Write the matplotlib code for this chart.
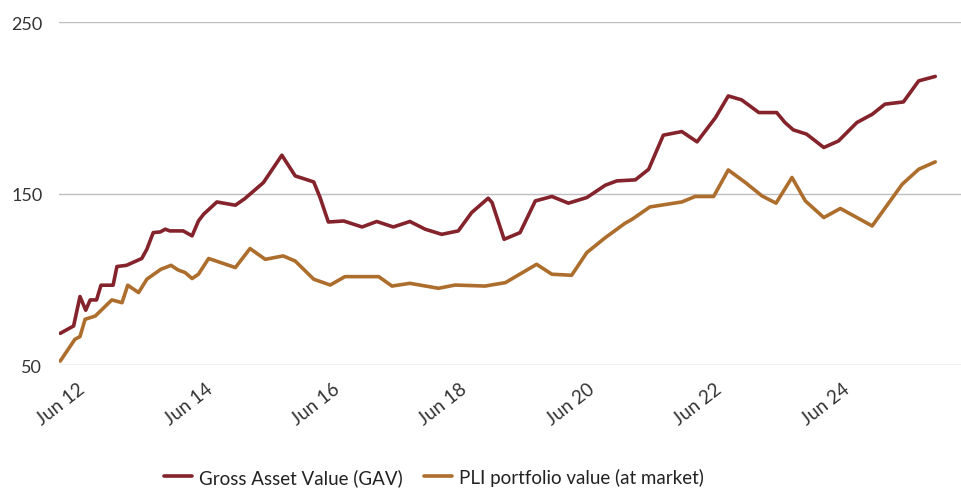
import matplotlib.pyplot as plt

# decimal-year dates and values
gav_dates = [2011.98, 2012.19, 2012.29, 2012.38, 2012.45, 2012.55, 2012.62, 2012.81, 2012.87,
             2013.02, 2013.26, 2013.34, 2013.44, 2013.55, 2013.63, 2013.70, 2013.91, 2014.05,
             2014.15, 2014.23, 2014.44, 2014.73, 2014.88, 2015.17, 2015.46, 2015.67, 2015.96,
             2016.06, 2016.19, 2016.43, 2016.72, 2016.95, 2017.21, 2017.47, 2017.71, 2017.97,
             2018.23, 2018.44, 2018.70, 2018.76, 2018.95, 2019.20, 2019.44, 2019.70, 2019.96,
             2020.25, 2020.54, 2020.72, 2021.01, 2021.22, 2021.45, 2021.74, 2021.98, 2022.27,
             2022.47, 2022.68, 2022.95, 2023.23, 2023.36, 2023.49, 2023.70, 2023.97, 2024.20,
             2024.49, 2024.73, 2024.93, 2025.22, 2025.46, 2025.72]
gav_values = [68.5, 72.8, 90.0, 82.0, 88.0, 88.0, 96.6, 96.6, 107.5,
              108.2, 112.2, 117.6, 127.3, 127.7, 129.3, 128.3, 128.3, 125.4,
              134.1, 138.0, 145.2, 143.3, 147.2, 156.5, 172.5, 160.4, 156.9,
              147.8, 133.5, 134.1, 130.6, 133.8, 130.6, 133.8, 129.3, 126.3,
              128.3, 139.0, 147.4, 144.9, 123.4, 127.3, 145.8, 148.4, 144.5,
              147.8, 155.0, 157.5, 158.1, 164.3, 184.2, 186.3, 180.3, 194.5,
              207.1, 204.8, 197.4, 197.4, 191.6, 187.3, 184.8, 177.0, 180.8,
              191.6, 196.4, 202.3, 203.6, 215.9, 218.5]

pli_dates = [2011.98, 2012.21, 2012.29, 2012.37, 2012.53, 2012.79, 2012.95, 2013.04, 2013.21,
             2013.34, 2013.56, 2013.72, 2013.83, 2013.94, 2014.05, 2014.15, 2014.31, 2014.73,
             2014.96, 2015.20, 2015.48, 2015.67, 2015.96, 2016.22, 2016.45, 2016.98, 2017.19,
             2017.47, 2017.92, 2018.18, 2018.65, 2018.97, 2019.46, 2019.70, 2020.01, 2020.25,
             2020.54, 2020.85, 2020.96, 2021.24, 2021.74, 2021.95, 2022.24, 2022.47, 2022.74,
             2023.00, 2023.22, 2023.47, 2023.68, 2023.97, 2024.23, 2024.73, 2025.20, 2025.46,
             2025.72]
pli_values = [52.3, 65.0, 66.6, 76.7, 78.6, 88.0, 86.4, 96.6, 92.3,
              100.1, 105.9, 108.2, 105.5, 104.0, 100.5, 103.0, 112.2, 106.9,
              118.0, 111.7, 113.7, 110.7, 100.1, 96.7, 101.6, 101.6, 96.1,
              97.7, 94.8, 96.7, 96.1, 98.1, 108.8, 103.0, 102.4, 115.7,
              124.4, 132.8, 135.1, 142.3, 145.2, 148.4, 148.4, 163.9, 156.5,
              148.7, 144.5, 159.5, 145.8, 136.1, 141.4, 131.2, 155.5, 164.3,
              168.6]

tick_years = [2012, 2014, 2016, 2018, 2020, 2022, 2024]
tick_labels = ['Jun 12', 'Jun 14', 'Jun 16', 'Jun 18', 'Jun 20', 'Jun 22', 'Jun 24']

plt.rcParams['font.family'] = ['Lato', 'DejaVu Sans']

fig = plt.figure(figsize=(9.62, 4.89), dpi=100)
ax = fig.add_axes([0.0613, 0.2515, 0.9387, 0.7005])

ax.plot(gav_dates, gav_values, color='#84232B', lw=2.6, solid_joinstyle='round',
        solid_capstyle='round', label='Gross Asset Value (GAV)')
ax.plot(pli_dates, pli_values, color='#AD6E2D', lw=2.6, solid_joinstyle='round',
        solid_capstyle='round', label='PLI portfolio value (at market)')

ax.set_ylim(50, 250)
ax.set_yticks([50, 150, 250])
ax.set_xlim(2011.96, 2026.14)
ax.set_xticks([y + 5 / 12 for y in tick_years])
ax.set_xticklabels(tick_labels, rotation=38, ha='right', va='bottom', rotation_mode='anchor')
ax.grid(axis='y', color='#BFBFBF', lw=1)
ax.set_axisbelow(True)
for s in ax.spines.values():
    s.set_visible(False)
ax.tick_params(axis='y', length=0, pad=12, labelsize=13, labelcolor='#333333')
ax.tick_params(axis='x', length=0, pad=20, labelsize=13.5, labelcolor='#333333')

ax.legend(loc='center', bbox_to_anchor=(434 / 962, 11 / 489), bbox_transform=fig.transFigure,
          ncol=2, frameon=False, fontsize=13.5, handlelength=1.5, handletextpad=0.4,
          columnspacing=1.1, labelcolor='#222222')

fig.savefig('out.png', dpi=100)
